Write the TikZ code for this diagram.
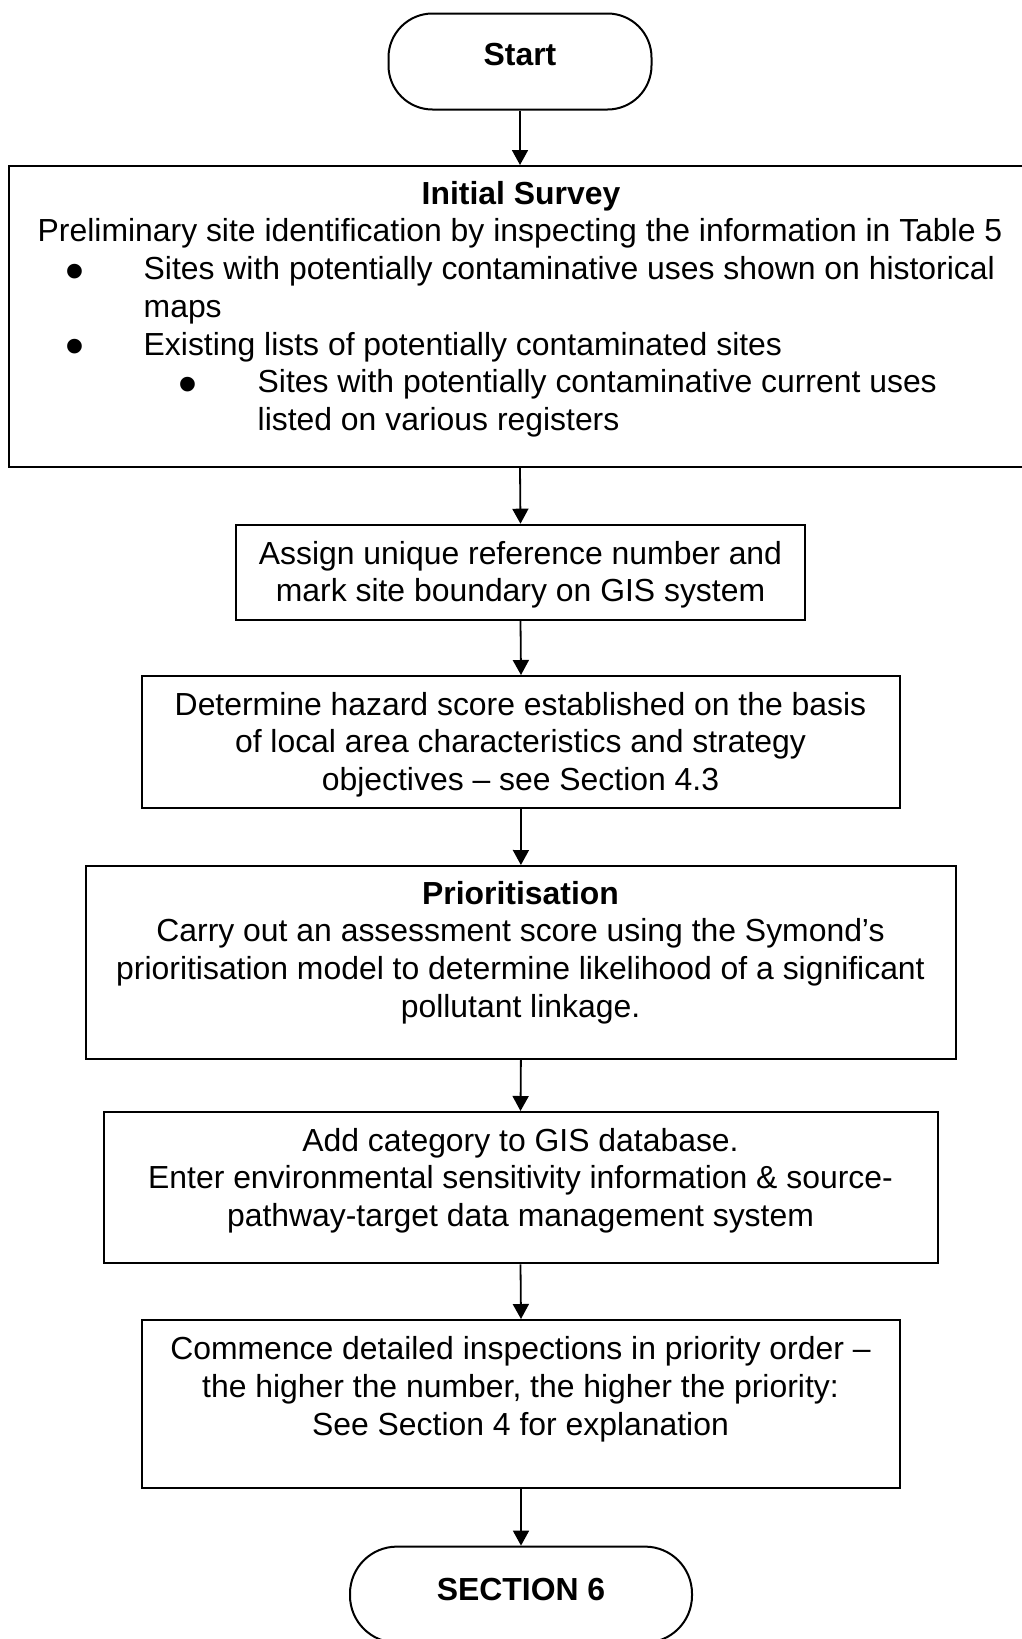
\documentclass[tikz,border=0pt]{standalone}
\usepackage{fontspec}
\setmainfont{Liberation Sans}
\usetikzlibrary{arrows.meta}
\newcommand\firststrut{\rule{0pt}{30pt}}
\begin{document}
\begin{tikzpicture}[x=1pt,y=-1pt,
  box/.style={draw=black, line width=2pt, inner sep=0pt, rectangle},
  term/.style={box, rounded corners=44pt},
  txt/.style={inner sep=0pt, align=center, font=\fontsize{31.9}{37.7}\selectfont},
  txtb/.style={txt, font=\fontsize{31.9}{37.7}\selectfont\bfseries},
  txtl/.style={txt, align=left},
  bullet/.style={inner sep=0pt, font=\fontsize{54}{54}\selectfont, anchor=base},
  flow/.style={line width=1.8pt, -{Triangle[length=15pt,width=16pt]}}
]
\useasboundingbox (0,0) rectangle (1022,1639);

% shapes
\node[term, minimum width=263pt, minimum height=96pt] (start) at (520,61.5) {};
\node[box, minimum width=1031pt, minimum height=301pt] (survey) at (524.7,316.5) {};
\node[box, minimum width=569pt, minimum height=95pt] (assign) at (520.5,572.2) {};
\node[box, minimum width=758pt, minimum height=132pt] (hazard) at (521,742) {};
\node[box, minimum width=870pt, minimum height=192.6pt] (prior) at (520.9,962.3) {};
\node[box, minimum width=834pt, minimum height=151.4pt] (addcat) at (520.5,1187.7) {};
\node[box, minimum width=758pt, minimum height=168pt] (commence) at (521,1404) {};
\node[term, rounded corners=47pt, minimum width=342pt, minimum height=96pt] (sect) at (521,1594.6) {};

% texts
\node[txtb, anchor=base] (startT) at (520,65) {Start};

\node[txtb, anchor=base] (surveyT) at (521,204) {Initial Survey};
\node[txt, anchor=base] (prelim) at (520,241.7) {Preliminary site identification by inspecting the information in Table 5};
\node[bullet] (bul1) at (75,289.5) {•};
\node[txtl, anchor=north west] (item1) at (143.5,249.4) {\firststrut Sites with potentially contaminative uses shown on historical\\maps};
\node[bullet] (bul2) at (75,364.9) {•};
\node[txtl, anchor=north west] (item2) at (143.5,324.8) {\firststrut Existing lists of potentially contaminated sites};
\node[bullet] (bul3) at (188.3,402.6) {•};
\node[txtl, anchor=north west] (item3) at (257.5,362.5) {\firststrut Sites with potentially contaminative current uses\\listed on various registers};

\node[txt, anchor=north] (assignT) at (520.5,534) {\firststrut Assign unique reference number and\\mark site boundary on GIS system};
\node[txt, anchor=north] (hazardT) at (520.5,685) {\firststrut Determine hazard score established on the basis\\of local area characteristics and strategy\\objectives -- see Section 4.3};
\node[txt, anchor=north] (priorT) at (520.5,874) {\firststrut\textbf{Prioritisation}\\Carry out an assessment score using the Symond’s\\prioritisation model to determine likelihood of a significant\\pollutant linkage.};
\node[txt, anchor=north] (addcatT) at (520.5,1121) {\firststrut Add category to GIS database.\\Enter environmental sensitivity information \& source-\\pathway-target data management system};
\node[txt, anchor=north] (commenceT) at (520.5,1329.5) {\firststrut Commence detailed inspections in priority order --\\the higher the number, the higher the priority:\\See Section 4 for explanation};

\node[txtb, anchor=base] (sectT) at (521,1600) {SECTION 6};

% connectors
\draw[flow] (start.south) -- (start.south |- survey.north);
\draw[flow] (start.south |- survey.south) -- (assign.north);
\draw[flow] (assign.south) -- (hazard.north);
\draw[flow] (hazard.south) -- (prior.north);
\draw[flow] (prior.south) -- (addcat.north);
\draw[flow] (addcat.south) -- (commence.north);
\draw[flow] (commence.south) -- (sect.north);
\end{tikzpicture}
\end{document}
